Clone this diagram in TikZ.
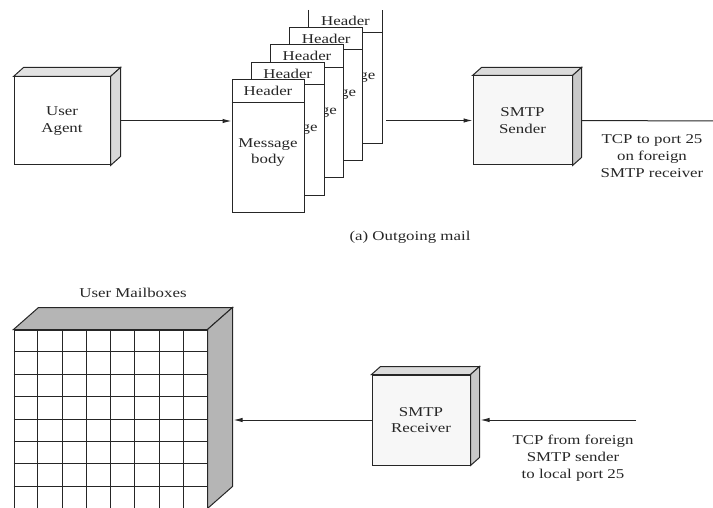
\documentclass[tikz,border=0pt]{standalone}
\usepackage{fontspec}
\setmainfont{Liberation Serif}[FakeStretch=1.25]
\usetikzlibrary{calc,arrows.meta}
\tikzset{
  ln/.style={line width=1pt, draw=black!85},
  arr/.style={ln, -{Latex[length=9pt,width=4.5pt]}},
  txt/.style={align=center, inner sep=0pt, font=\fontsize{13.5}{16.7}\selectfont, text=black!85},
  frag/.style={txt, anchor=base east},
  page/.style={ln, fill=white, minimum width=73pt, minimum height=133pt, inner sep=0pt},
}
\newcommand{\cubefaces}[5]{%
  \draw[ln, fill=#4] (#1.north west) -- ++(#2,#3) -- ($(#1.north east)+(#2,#3)$) -- (#1.north east) -- cycle;
  \draw[ln, fill=#5] (#1.north east) -- ++(#2,#3) -- ($(#1.south east)+(#2,#3)$) -- (#1.south east) -- cycle;
}
\begin{document}
\begin{tikzpicture}[x=1pt,y=-1pt]
\useasboundingbox (0,0) rectangle (713,508);

% ---------- (a) Outgoing mail ----------
\node[ln, fill=white, minimum width=96pt, minimum height=88pt, inner sep=0pt] (ua) at (62,121) {};
\cubefaces{ua}{10}{-9}{gray!22}{gray!30}
\node[txt] (uat) at (ua.center) {User\\Agent};

% pages, back to front
\node[fill=white, minimum width=73pt, minimum height=133pt, inner sep=0pt] (p5) at (345.5,76.5) {};
\draw[ln] (p5.north west) -- (p5.south west) -- (p5.south east) -- (p5.north east);
\draw[ln] ($(p5.north west)+(0,23)$) -- ($(p5.north east)+(0,23)$);
\node[txt] (h5) at ($(p5.north)+(0,11.5)$) {Header};
\node[frag] (b5) at ($(p5.north)+(30,70)$) {ge};

\node[page] (p4) at (326.25,94) {};
\draw[ln] ($(p4.north west)+(0,23)$) -- ($(p4.north east)+(0,23)$);
\node[txt] (h4) at ($(p4.north)+(0,11.5)$) {Header};
\node[frag] (b4) at ($(p4.north)+(30,70)$) {ge};

\node[page] (p3) at (307,111.5) {};
\draw[ln] ($(p3.north west)+(0,23)$) -- ($(p3.north east)+(0,23)$);
\node[txt] (h3) at ($(p3.north)+(0,11.5)$) {Header};
\node[frag] (b3) at ($(p3.north)+(30,70)$) {ge};

\node[page] (p2) at (287.75,129) {};
\draw[ln] ($(p2.north west)+(0,23)$) -- ($(p2.north east)+(0,23)$);
\node[txt] (h2) at ($(p2.north)+(0,11.5)$) {Header};
\node[frag] (b2) at ($(p2.north)+(30,70)$) {ge};

\node[page, minimum width=72pt] (p1) at (268,146.5) {};
\draw[ln] ($(p1.north west)+(0,23)$) -- ($(p1.north east)+(0,23)$);
\node[txt] (h1) at ($(p1.north)+(0,11.5)$) {Header};
\node[txt] (b1) at ($(p1.north)+(0,73)$) {Message\\body};

\node[ln, fill=gray!6, minimum width=99pt, minimum height=89pt, inner sep=0pt] (snd) at (522.5,120.5) {};
\cubefaces{snd}{9}{-8}{gray!28}{gray!42}
\node[txt] (sndt) at (snd.center) {SMTP\\Sender};

\coordinate (tcpout) at (713,121);
\draw[arr] ([xshift=10pt]ua.east) -- (p1.west |- ua.east);
\draw[arr] ([xshift=4pt]p5.east |- snd.west) -- (snd.west);
\draw[ln] ([xshift=9pt]snd.east) -- (tcpout);
\node[txt] (tcpl1) at (652,156) {TCP to port 25\\on foreign\\SMTP receiver};

\node[txt] (capa) at (410,237) {(a) Outgoing mail};

% ---------- incoming ----------
\node[ln, fill=white, minimum width=193pt, minimum height=178pt, inner sep=0pt] (mbox) at (110.5,419) {};
\cubefaces{mbox}{25}{-22}{gray!58}{gray!58}
\foreach \i in {1,...,7} {
  \draw[ln] ($(mbox.north west)!\i/8!(mbox.north east)$) -- ($(mbox.south west)!\i/8!(mbox.south east)$);
  \draw[ln] ($(mbox.north west)!\i/8!(mbox.south west)$) -- ($(mbox.north east)!\i/8!(mbox.south east)$);
}
\node[txt] (mbl) at (133,293) {User Mailboxes};

\node[ln, fill=gray!6, minimum width=98pt, minimum height=90pt, inner sep=0pt] (rcv) at (421,420) {};
\cubefaces{rcv}{9}{-8}{gray!28}{gray!42}
\node[txt] (rcvt) at (rcv.center) {SMTP\\Receiver};

\coordinate (tcpin) at (636,420);
\draw[arr] (tcpin) -- ([xshift=10pt]rcv.east);
\draw[arr] (rcv.west) -- ([xshift=26pt]mbox.east |- rcv.west);
\node[txt] (tcpl2) at (573,458) {TCP from foreign\\SMTP sender\\to local port 25};
\end{tikzpicture}
\end{document}
